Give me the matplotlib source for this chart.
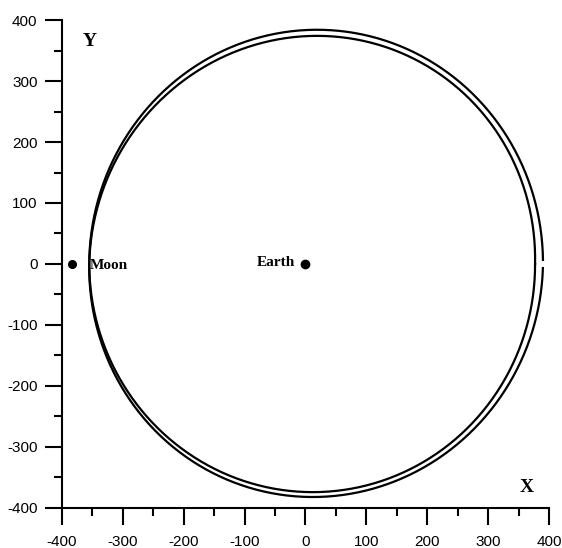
import numpy as np
import matplotlib.pyplot as plt

plt.rcParams['axes.unicode_minus'] = False

# orbit extents (km x 1000): left, right, top, bottom, x at top, x at bottom
inner_orbit = [-355, 377, 374, -374, 19, 12]
outer_orbit = [-355, 390, 384, -382, 19, 12]
gap_deg = 1.0  # small break in the outer orbit at the right

moon_xy = (-384, 0)
earth_xy = (0, 0)

ticks = [-400, -300, -200, -100, 0, 100, 200, 300, 400]


def orbit(ext, gap=0.0):
    left, right, top, bot, xt, xb = ext
    cx = (left + right) / 2
    a = (right - left) / 2
    t = np.radians(np.linspace(gap, 360 - gap, 721))
    x = cx + a * np.cos(t)
    b = np.where(np.sin(t) >= 0, top, -bot)
    y = b * np.sin(t)
    # slight skew so the top and bottom extremes sit where they do in the picture
    x = x + np.where(np.sin(t) >= 0, (xt - cx), (xb - cx)) * np.abs(np.sin(t))
    return x, y


fig = plt.figure(figsize=(5.62, 5.48), dpi=100)
ax = fig.add_axes([0.110, 0.073, 0.867, 0.8905])

for ext, g in [(inner_orbit, 0.0), (outer_orbit, gap_deg)]:
    x, y = orbit(ext, g)
    ax.plot(x, y, color='black', lw=1.6)

ax.plot(*moon_xy, 'o', color='black', ms=5.5)
ax.plot(*earth_xy, 'o', color='black', ms=6)

serif = dict(family='Liberation Serif', weight='bold', color='black')
ax.text(moon_xy[0] + 30, moon_xy[1] - 3, 'Moon', ha='left', va='center', fontsize=11, **serif)
ax.text(earth_xy[0] - 17, earth_xy[1] + 2, 'Earth', ha='right', va='center', fontsize=11, **serif)
ax.text(-354, 364, 'Y', ha='center', va='center', fontsize=14, **serif)
ax.text(364, -367, 'X', ha='center', va='center', fontsize=14, **serif)

ax.set_xlim(-400, 400)
ax.set_ylim(-400, 400)
ax.set_xticks(ticks)
ax.set_yticks(ticks)
ax.set_xticks(np.arange(-350, 400, 100), minor=True)
ax.set_yticks(np.arange(-350, 400, 100), minor=True)
for lab in ax.get_xticklabels() + ax.get_yticklabels():
    lab.set_family('Liberation Sans')
    lab.set_fontsize(11)
ax.tick_params(which='major', direction='out', length=12, width=1.5)
ax.tick_params(which='minor', direction='out', length=6, width=1.5)
ax.tick_params(axis='x', which='major', pad=7.5)
ax.tick_params(axis='y', which='major', pad=5.5)
for s in ['top', 'right']:
    ax.spines[s].set_visible(False)
for s in ['left', 'bottom']:
    ax.spines[s].set_linewidth(1.5)

fig.savefig('out.png', dpi=100)
